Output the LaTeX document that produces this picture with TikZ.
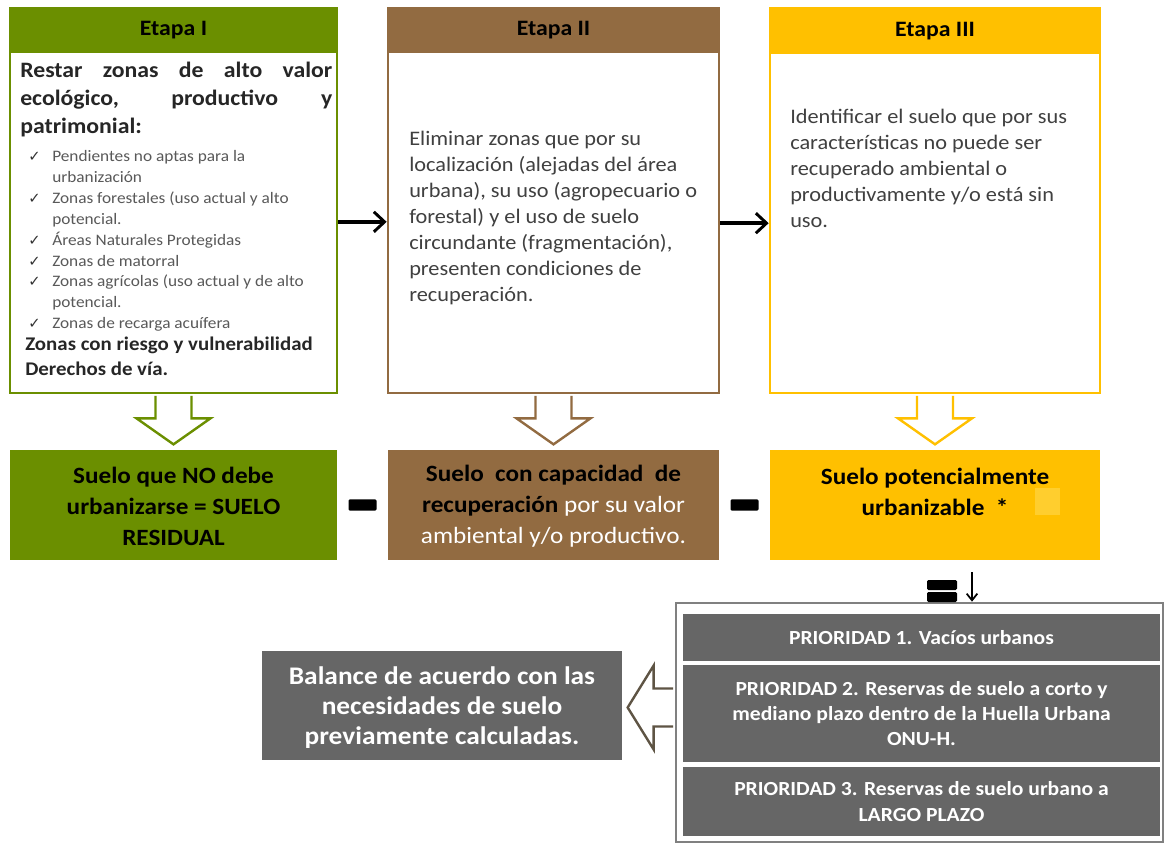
\documentclass[tikz,border=0pt]{standalone}
\usepackage{fontspec}
\setmainfont{Carlito}[FakeStretch=1.08]
\newfontfamily\checkfont{DejaVu Sans}
\usetikzlibrary{arrows.meta, positioning, calc, fit}
\definecolor{StageGreen}{HTML}{6B8F00}
\definecolor{StageBrown}{HTML}{926B41}
\definecolor{StageYellow}{HTML}{FFC000}
\definecolor{PaleYellow}{HTML}{FFCE2E}
\definecolor{PrioGray}{HTML}{666666}
\definecolor{FrameGray}{HTML}{808080}
\definecolor{BodyText}{HTML}{404040}
\definecolor{ListText}{HTML}{595959}
\definecolor{BackArrow}{HTML}{5E5444}
\newcommand{\chk}{\makebox[18pt][l]{\color{black!80}\checkfont\fontsize{11}{11}\selectfont ✓}}
\newcommand{\cind}{\hspace*{18pt}}
\tikzset{
  stagebox/.style={draw=#1, line width=2pt, fill=white, inner sep=0pt},
  stagehead/.style={fill=#1, inner sep=0pt},
  headlabel/.style={inner sep=0pt, font=\fontsize{16.5}{20}\selectfont\bfseries},
  headtext/.style={anchor=north west, inner sep=0pt, align=justify, text=black!85, font=\fontsize{16.5}{21}\selectfont\bfseries},
  listtext/.style={anchor=north west, inner sep=0pt, align=left, text=ListText, font=\fontsize{12}{15.7}\selectfont},
  tailtext/.style={anchor=north west, inner sep=0pt, align=left, text=black!85, font=\fontsize{14.5}{18.75}\selectfont\bfseries},
  bodytext/.style={anchor=north west, inner sep=0pt, align=left, text=BodyText, font=\fontsize{15.5}{19.5}\selectfont},
  resultbox/.style={fill=#1, inner sep=0pt},
  resulttext/.style={inner sep=0pt, align=center, font=\fontsize{17.5}{23.25}\selectfont\bfseries},
  priobox/.style={fill=PrioGray, inner sep=0pt},
  priotext/.style={inner sep=0pt, align=center, text=white, font=\fontsize{15}{19}\selectfont\bfseries},
  opsign/.style={fill=black, inner sep=0pt, minimum width=21pt, minimum height=8.5pt, rounded corners=1pt},
  flow/.style={-{Straight Barb[length=8pt, width=15pt, line width=2.2pt]}, line width=2.6pt},
  smallflow/.style={-{Straight Barb[length=5pt, width=8pt]}, line width=1.3pt},
  hollow/.style={draw=#1, line width=1.8pt, fill=white, line join=miter}
}
\begin{document}
\begin{tikzpicture}[x=0.75pt, y=-0.75pt]
\fill[white] (0,0) rectangle (1164,843);
\useasboundingbox (0,0) rectangle (1164,843);

% etapas
\node[stagebox=StageGreen, fit={(10,8) (337,393)}] (e1) {};
\node[stagebox=StageBrown, fit={(388,8) (719,393)}] (e2) {};
\node[stagebox=StageYellow, fit={(770,8) (1100,393)}] (e3) {};
\node[stagehead=StageGreen, fit={(10,8) (337,53)}] (h1) {};
\node[stagehead=StageBrown, fit={(388,8) (719,53)}] (h2) {};
\node[stagehead=StageYellow, fit={(770,8) (1100,54)}] (h3) {};
\node[headlabel] at (h1) {Etapa I};
\node[headlabel] at (h2) {Etapa II};
\node[headlabel] at (h3) {Etapa III};

\node[headtext, text width=234pt] (t1) at (20,62) {Restar zonas de alto valor\linebreak ecológico, productivo y\linebreak patrimonial:};
\node[listtext] (t1list) at (28,150) {\chk Pendientes no aptas para la\\ \cind urbanización\\
  \chk Zonas forestales (uso actual y alto\\ \cind potencial.\\
  \chk Áreas Naturales Protegidas\\
  \chk Zonas de matorral\\
  \chk Zonas agrícolas (uso actual y de alto\\ \cind potencial.\\
  \chk Zonas de recarga acuífera};
\node[tailtext] (t1tail) at (25,337) {Zonas con riesgo y vulnerabilidad\\Derechos de vía.};
\node[bodytext] (t2) at (409,131) {Eliminar zonas que por su\\localización (alejadas del área\\urbana), su uso (agropecuario o\\forestal) y el uso de suelo\\circundante (fragmentación),\\presenten condiciones de\\recuperación.};
\node[bodytext] (t3) at (790,109) {Identificar el suelo que por sus\\características no puede ser\\recuperado ambiental o\\productivamente y/o está sin\\uso.};

\draw[flow] ([yshift=-16pt]e1.east) -- ([yshift=-16pt]e2.west);
\draw[flow] ([yshift=-17pt]e2.east) -- ([yshift=-17pt]e3.west);

\foreach \s/\c in {e1/StageGreen, e2/StageBrown, e3/StageYellow}
  \draw[hollow=\c] ($(\s.south)+(-18,1.5)$) -- ++(0,22.5) -- ++(-19,0) -- ++(37,26) -- ++(37,-26) -- ++(-19,0) -- ++(0,-22.5);

% resultados
\node[resultbox=StageGreen, fit={(10,450) (337,560)}] (r1) {};
\node[resultbox=StageBrown, fit={(388,450) (719,560)}] (r2) {};
\node[resultbox=StageYellow, fit={(770,450) (1100,560)}] (r3) {};
\fill[PaleYellow] (1035,488) rectangle (1060,515);
\node[resulttext] (r1t) at ([yshift=-1pt]r1.center) {Suelo que NO debe\\urbanizarse = SUELO\\RESIDUAL};
\node[resulttext] (r2t) at ([yshift=-1pt]r2.center) {Suelo\ \ con capacidad\ \ de\\recuperación {\color{white}\mdseries por su valor}\\{\color{white}\mdseries ambiental y/o productivo.}};
\node[resulttext] (r3t) at (935,492) {Suelo potencialmente\\urbanizable\ \ *};

\node[opsign] (m1) at ($(r1.east)!0.5!(r2.west)$) {};
\node[opsign] (m2) at ($(r2.east)!0.5!(r3.west)$) {};

% prioridades
\node[fit={(676,603) (1163,842)}, draw=FrameGray, line width=2pt, inner sep=0pt] (prio) {};
\node[priobox, fit={(683,614) (1160,661)}] (p1) {};
\node[priobox, fit={(683,665) (1160,762)}] (p2) {};
\node[priobox, fit={(683,767) (1160,836)}] (p3) {};
\node[priotext] at (p1) {PRIORIDAD 1. Vacíos urbanos};
\node[priotext] at (p2) {PRIORIDAD 2. Reservas de suelo a corto y\\mediano plazo dentro de la Huella Urbana\\ONU-H.};
\node[priotext] at (p3) {PRIORIDAD 3. Reservas de suelo urbano a\\LARGO PLAZO};

\node[opsign, minimum width=22.5pt, minimum height=7.5pt] (eq1) at (942,585) {};
\node[opsign, minimum width=22.5pt, minimum height=7.5pt] (eq2) at (942,597) {};
\coordinate (drop) at (972,572);
\draw[smallflow] (drop) -- (drop |- prio.north);

\node[priobox, fit={(262,651) (622,760)}] (bal) {};
\node[priotext, font=\fontsize{19}{22.5}\selectfont\bfseries] at ([yshift=-1.5pt]bal.center) {Balance de acuerdo con las\\necesidades de suelo\\previamente calculadas.};
\draw[hollow=BackArrow] ($(prio.west)+(-1.5,-34)$) -- ++(-19.5,0) -- ++(0,-23) -- ++(-26,42) -- ++(26,42) -- ++(0,-23) -- ++(19.5,0);
\end{tikzpicture}
\end{document}
